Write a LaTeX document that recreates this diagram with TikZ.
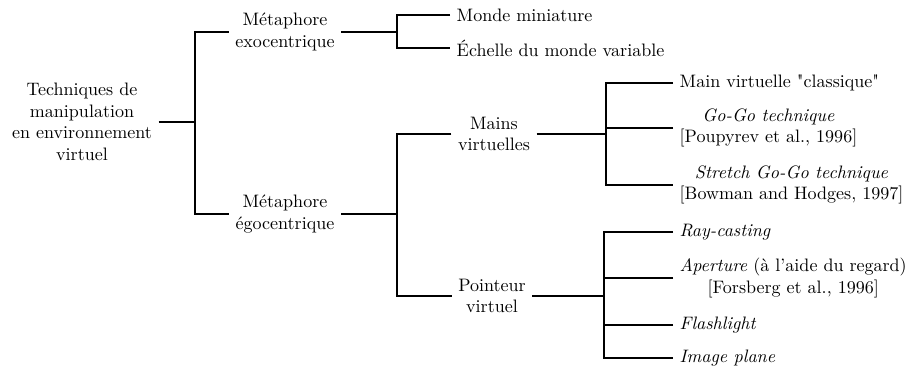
\documentclass[tikz,border=0pt]{standalone}
\usepackage{fontspec}
\usetikzlibrary{positioning,calc}
\begin{document}
\begin{tikzpicture}[x=0.0195cm,y=-0.0195cm,thick]
\tikzstyle{n}=[align=center]
\tikzstyle{f}=[anchor=west,align=center]
\useasboundingbox (0,0) rectangle (921,372);
% racine
\node[n] (root) at (82,122) {Techniques de\\manipulation\\en environnement\\virtuel};
% metaphores
\node[n] (exo) at (285,32) {Métaphore\\exocentrique};
\node[n] (ego) at (285,214) {Métaphore\\égocentrique};
\coordinate (j0) at (195,122);
\draw (root.east) -- (j0);
\draw (exo.west) -| (j0) |- (ego.west);
% exocentrique
\node[f] (mini) at (450,15) {Monde miniature};
\node[f] (ech) at (450,48) {Échelle du monde variable};
\coordinate (j1) at (397,32);
\draw (exo.east) -- (j1);
\draw (mini.west) -| (j1) |- (ech.west);
% egocentrique
\node[n] (mains) at (494,134) {Mains\\virtuelles};
\node[n] (point) at (492,296) {Pointeur\\virtuel};
\coordinate (j2) at (397,214);
\draw (ego.east) -- (j2);
\draw (mains.west) -| (j2) |- (point.west);
% mains virtuelles
\node[f] (clas) at (673,83) {Main virtuelle \textquotedbl classique\textquotedbl};
\node[f] (gogo) at (673,128) {\textit{Go-Go technique}\\{}[Poupyrev et al., 1996]};
\node[f] (stretch) at (673,185) {\textit{Stretch Go-Go technique}\\{}[Bowman and Hodges, 1997]};
\coordinate (j3) at (606,134);
\draw (mains.east) -- (j3);
\draw (clas.west) -| (j3) |- (stretch.west);
\draw (gogo.west) -- (gogo.west -| j3);
% pointeur virtuel
\node[f] (ray) at (673,232) {\textit{Ray-casting}};
\node[f] (aper) at (673,278) {\textit{Aperture} (à l'aide du regard)\\{}[Forsberg et al., 1996]};
\node[f] (flash) at (673,325) {\textit{Flashlight}};
\node[f] (plane) at (673,358) {\textit{Image plane}};
\coordinate (j4) at (604,296);
\draw (point.east) -- (j4);
\draw (ray.west) -| (j4) |- (plane.west);
\draw (aper.west) -- (aper.west -| j4);
\draw (flash.west) -- (flash.west -| j4);
\end{tikzpicture}
\end{document}
